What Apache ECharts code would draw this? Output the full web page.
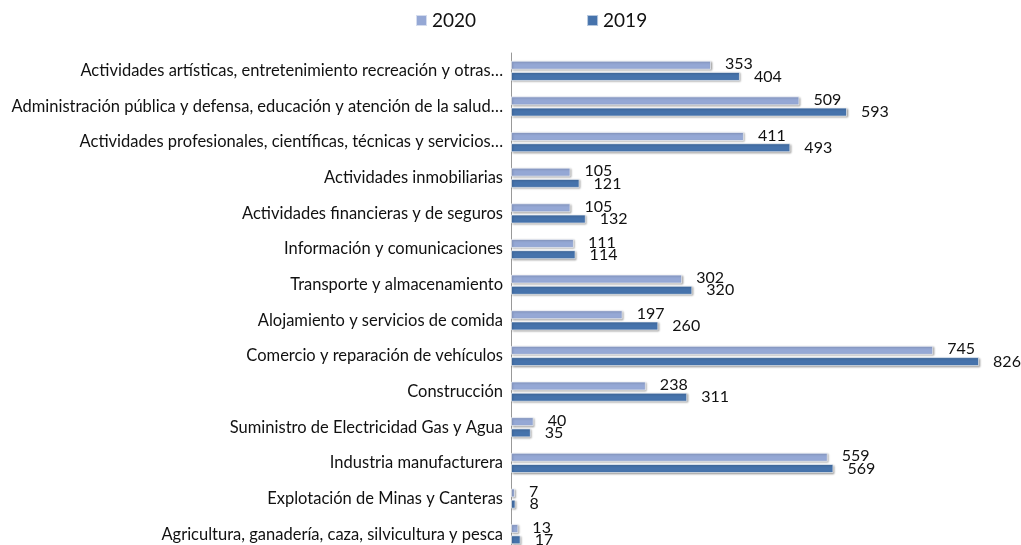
<!DOCTYPE html>
<html lang="es">
<head>
    <meta charset="UTF-8">
    <title>Ocupados por rama de actividad</title>
    <script src="https://cdn.jsdelivr.net/npm/echarts@6/dist/echarts.min.js"></script>
    <style>
        html, body { margin: 0; width: 100%; height: 100%; background: #fff; overflow: hidden; }
        /* el grafico original corta la ultima fila, por eso el lienzo es algo mas alto */
        #chart { width: 1021px; height: 552px; }
    </style>
</head>
<body>
    <div id="chart"></div>
    <script>
        // categorias, de abajo hacia arriba (el eje y va de abajo a arriba)
        var categorias = [
            'Agricultura, ganadería, caza, silvicultura y pesca',
            'Explotación de Minas y Canteras',
            'Industria manufacturera',
            'Suministro de Electricidad Gas y Agua',
            'Construcción',
            'Comercio y reparación de vehículos',
            'Alojamiento y servicios de comida',
            'Transporte y almacenamiento',
            'Información y comunicaciones',
            'Actividades financieras y de seguros',
            'Actividades inmobiliarias',
            'Actividades profesionales, científicas, técnicas y servicios…',
            'Administración pública y defensa, educación y atención de la salud…',
            'Actividades artísticas, entretenimiento recreación y otras…'
        ];
        var valores2020 = [13, 7, 559, 40, 238, 745, 197, 302, 111, 105, 105, 411, 509, 353];
        var valores2019 = [17, 8, 569, 35, 311, 826, 260, 320, 114, 132, 121, 493, 593, 404];

        var fuente = 'Lato';
        var chart = echarts.init(document.getElementById('chart'));

        function serie(nombre, datos, color, offsetY) {
            return {
                name: nombre,
                type: 'bar',
                data: datos,
                barWidth: 9,
                barGap: '25%',
                itemStyle: {
                    color: color,
                    borderColor: 'rgba(255,255,255,0.6)',
                    borderWidth: 1,
                    shadowColor: 'rgba(0,0,0,0.35)',
                    shadowBlur: 2,
                    shadowOffsetX: 1,
                    shadowOffsetY: 1
                },
                label: {
                    show: true,
                    position: 'right',
                    distance: 14,
                    offset: [0, offsetY],
                    color: '#111',
                    fontFamily: fuente,
                    fontSize: 16
                }
            };
        }

        chart.setOption({
            animation: false,
            legend: {
                top: 6,
                left: 410,
                itemGap: 110,
                itemWidth: 11,
                itemHeight: 11,
                icon: 'rect',
                textStyle: { fontFamily: fuente, fontSize: 19, color: '#111' },
                data: ['2020', '2019']
            },
            grid: { left: 511, top: 53, right: 0, bottom: 0 },
            xAxis: {
                type: 'value',
                min: 0,
                max: 900,
                show: false
            },
            yAxis: {
                type: 'category',
                data: categorias,
                axisLine: { show: true, lineStyle: { color: '#999', width: 1 } },
                axisTick: { show: false },
                axisLabel: {
                    margin: 8,
                    color: '#111',
                    fontFamily: fuente,
                    fontSize: 16.5
                }
            },
            series: [
                serie('2020', valores2020, '#95A8D5', -1),
                serie('2019', valores2019, '#4673AC', 0)
            ]
        });
    </script>
</body>
</html>
